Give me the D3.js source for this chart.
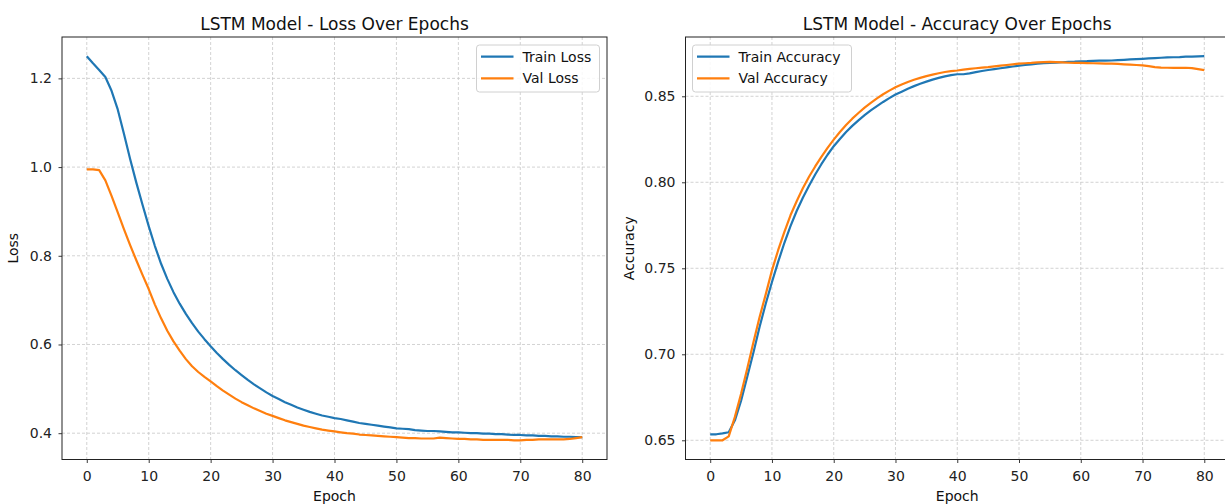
<!DOCTYPE html>
<html>
<head>
<meta charset="utf-8">
<title>LSTM Model - Loss / Accuracy</title>
<script src="https://d3js.org/d3.v7.min.js"></script>
<style>
    body { margin: 0; background: #fff; }
    svg { display: block; font-family: "DejaVu Sans", sans-serif; }
    .tick text { fill: #222; }
</style>
</head>
<body>
<div id="chart"></div>
<script>
    // epochs 0..80
    var epochs = d3.range(0, 81);

    var trainLoss = [
        1.250, 1.234, 1.219, 1.203, 1.172, 1.130, 1.075, 1.018, 0.965, 0.915,
        0.867, 0.822, 0.782, 0.748, 0.718, 0.692, 0.669, 0.648, 0.629, 0.612,
        0.596, 0.581, 0.567, 0.554, 0.542, 0.531, 0.520, 0.510, 0.501, 0.492,
        0.484, 0.477, 0.470, 0.464, 0.458, 0.453, 0.448, 0.444, 0.440, 0.437,
        0.434, 0.432, 0.429, 0.426, 0.423, 0.421, 0.419, 0.417, 0.415, 0.413,
        0.411, 0.410, 0.409, 0.407, 0.406, 0.405, 0.405, 0.404, 0.403, 0.402,
        0.402, 0.401, 0.400, 0.400, 0.399, 0.399, 0.398, 0.398, 0.397, 0.396,
        0.396, 0.395, 0.395, 0.394, 0.394, 0.393, 0.393, 0.392, 0.392, 0.391,
        0.391
    ];
    var valLoss = [
        0.995, 0.995, 0.993, 0.970, 0.935, 0.898, 0.860, 0.824, 0.790, 0.757,
        0.725, 0.690, 0.659, 0.631, 0.607, 0.586, 0.567, 0.551, 0.538, 0.527,
        0.517, 0.506, 0.496, 0.487, 0.478, 0.470, 0.463, 0.456, 0.450, 0.444,
        0.439, 0.434, 0.429, 0.425, 0.421, 0.417, 0.414, 0.411, 0.408, 0.406,
        0.404, 0.402, 0.400, 0.399, 0.397, 0.396, 0.395, 0.394, 0.393, 0.392,
        0.391, 0.390, 0.389, 0.389, 0.388, 0.388, 0.388, 0.390, 0.389, 0.388,
        0.387, 0.387, 0.386, 0.386, 0.385, 0.385, 0.385, 0.385, 0.385, 0.384,
        0.384, 0.385, 0.385, 0.386, 0.386, 0.386, 0.386, 0.386, 0.387, 0.389,
        0.391
    ];
    var trainAcc = [
        0.6535, 0.6535, 0.6540, 0.6547, 0.6616, 0.6730, 0.6870, 0.7010, 0.7160, 0.7295,
        0.7420, 0.7537, 0.7647, 0.7745, 0.7833, 0.7910, 0.7980, 0.8045, 0.8105, 0.8160,
        0.8210, 0.8252, 0.8292, 0.8328, 0.8360, 0.8390, 0.8418, 0.8443, 0.8467, 0.8489,
        0.8510, 0.8527, 0.8544, 0.8559, 0.8573, 0.8585, 0.8597, 0.8607, 0.8616, 0.8623,
        0.8628, 0.8628, 0.8633, 0.8640, 0.8647, 0.8653, 0.8658, 0.8663, 0.8668, 0.8673,
        0.8678, 0.8682, 0.8686, 0.8689, 0.8692, 0.8694, 0.8696, 0.8698, 0.8700, 0.8701,
        0.8703, 0.8704, 0.8706, 0.8707, 0.8707, 0.8708, 0.8710, 0.8712, 0.8714, 0.8716,
        0.8718, 0.8720, 0.8722, 0.8724, 0.8726, 0.8727, 0.8728, 0.8730, 0.8731, 0.8732,
        0.8733
    ];
    var valAcc = [
        0.6500, 0.6500, 0.6500, 0.6523, 0.6636, 0.6770, 0.6917, 0.7070, 0.7217, 0.7350,
        0.7488, 0.7605, 0.7710, 0.7808, 0.7890, 0.7965, 0.8032, 0.8092, 0.8148, 0.8200,
        0.8248, 0.8292, 0.8333, 0.8370, 0.8403, 0.8434, 0.8462, 0.8488, 0.8512, 0.8533,
        0.8552, 0.8568, 0.8583, 0.8596, 0.8607, 0.8617, 0.8626, 0.8634, 0.8641, 0.8646,
        0.8650, 0.8655, 0.8659, 0.8663, 0.8667, 0.8670, 0.8674, 0.8678, 0.8682, 0.8686,
        0.8690, 0.8692, 0.8694, 0.8697, 0.8699, 0.8700, 0.8699, 0.8697, 0.8695, 0.8694,
        0.8694, 0.8693, 0.8692, 0.8691, 0.8690, 0.8690, 0.8688, 0.8686, 0.8684, 0.8682,
        0.8680, 0.8675, 0.8670, 0.8667, 0.8666, 0.8665, 0.8665, 0.8666, 0.8664, 0.8658,
        0.8652
    ];

    var xTicks = [0, 10, 20, 30, 40, 50, 60, 70, 80];
    var lossTicks = [0.4, 0.6, 0.8, 1.0, 1.2];
    var accTicks = [0.65, 0.70, 0.75, 0.80, 0.85];

    var blue = "#1f77b4", orange = "#ff7f0e";

    var svg = d3.select("#chart")
        .append("svg")
            .attr("width", 1225)
            .attr("height", 504);

    // one subplot, matplotlib style (5% margins on the data range)
    function panel(o) {
        var x = d3.scaleLinear().domain([-4, 84]).range([o.left, o.right]);
        var all = o.series[0].values.concat(o.series[1].values);
        var lo = d3.min(all), hi = d3.max(all), pad = (hi - lo) * 0.05;
        var y = d3.scaleLinear().domain([lo - pad, hi + pad]).range([o.bottom, o.top]);

        var g = svg.append("g");

        // grid
        g.append("g").selectAll("line").data(xTicks).enter().append("line")
            .attr("x1", function(d) { return x(d); }).attr("x2", function(d) { return x(d); })
            .attr("y1", o.top).attr("y2", o.bottom);
        g.append("g").selectAll("line").data(o.yTicks).enter().append("line")
            .attr("x1", o.left).attr("x2", o.right)
            .attr("y1", function(d) { return y(d); }).attr("y2", function(d) { return y(d); });
        g.selectAll("line")
            .attr("stroke", "#c8c8c8")
            .attr("stroke-width", 0.8)
            .attr("stroke-dasharray", "3,2");

        // lines
        var line = d3.line()
            .x(function(d, i) { return x(epochs[i]); })
            .y(function(d) { return y(d); });
        o.series.forEach(function(s) {
            g.append("path")
                .attr("d", line(s.values))
                .attr("fill", "none")
                .attr("stroke", s.color)
                .attr("stroke-width", 2.2)
                .attr("stroke-linejoin", "round");
        });

        // axes
        g.append("g")
            .attr("transform", "translate(0," + o.bottom + ")")
            .call(d3.axisBottom(x).tickValues(xTicks).tickSize(3.5).tickSizeOuter(0).tickPadding(8.5))
            .call(function(a) { a.select(".domain").remove(); })
            .attr("font-size", 14).attr("font-family", null);
        g.append("g")
            .attr("transform", "translate(" + o.left + ",0)")
            .call(d3.axisLeft(y).tickValues(o.yTicks).tickFormat(d3.format(o.fmt)).tickSize(3.5).tickSizeOuter(0).tickPadding(6.5))
            .call(function(a) { a.select(".domain").remove(); })
            .attr("font-size", 14).attr("font-family", null);
        g.selectAll(".tick line").attr("stroke", "#222").attr("stroke-width", 0.9);

        // frame
        g.append("rect")
            .attr("x", o.left).attr("y", o.top)
            .attr("width", o.right - o.left).attr("height", o.bottom - o.top)
            .attr("fill", "none").attr("stroke", "#222").attr("stroke-width", 1);

        var cx = (o.left + o.right) / 2, cy = (o.top + o.bottom) / 2;
        g.append("text").attr("x", cx).attr("y", 30)
            .attr("text-anchor", "middle").attr("font-size", 17).attr("fill", "#111")
            .text(o.title);
        g.append("text").attr("x", cx).attr("y", 501)
            .attr("text-anchor", "middle").attr("font-size", 14).attr("fill", "#111")
            .text("Epoch");
        g.append("text")
            .attr("transform", "translate(" + o.ylabelX + "," + cy + ") rotate(-90)")
            .attr("text-anchor", "middle").attr("font-size", 14).attr("fill", "#111")
            .text(o.ylabel);

        // legend
        var lg = g.append("g").attr("transform", "translate(" + o.legend[0] + "," + o.legend[1] + ")");
        lg.append("rect")
            .attr("width", o.legendW).attr("height", 47)
            .attr("rx", 3)
            .attr("fill", "#fff").attr("fill-opacity", 0.85)
            .attr("stroke", "#d0d0d0").attr("stroke-width", 1);
        o.series.forEach(function(s, i) {
            var yy = 11.7 + i * 21.6;
            lg.append("line")
                .attr("x1", 4.5).attr("x2", 37)
                .attr("y1", yy).attr("y2", yy)
                .attr("stroke", s.color).attr("stroke-width", 2.2);
            lg.append("text")
                .attr("x", 46).attr("y", yy + 5)
                .attr("font-size", 14).attr("fill", "#111")
                .text(s.name);
        });
    }

    panel({
        left: 62, right: 607, top: 37, bottom: 459.5,
        title: "LSTM Model - Loss Over Epochs", ylabel: "Loss", ylabelX: 18,
        yTicks: lossTicks, fmt: ".1f",
        series: [
            {name: "Train Loss", values: trainLoss, color: blue},
            {name: "Val Loss", values: valLoss, color: orange}
        ],
        legend: [476.5, 45], legendW: 123
    });

    panel({
        left: 685.5, right: 1229, top: 37, bottom: 459.5,
        title: "LSTM Model - Accuracy Over Epochs", ylabel: "Accuracy", ylabelX: 634,
        yTicks: accTicks, fmt: ".2f",
        series: [
            {name: "Train Accuracy", values: trainAcc, color: blue},
            {name: "Val Accuracy", values: valAcc, color: orange}
        ],
        legend: [692.5, 45], legendW: 159
    });
</script>
</body>
</html>
